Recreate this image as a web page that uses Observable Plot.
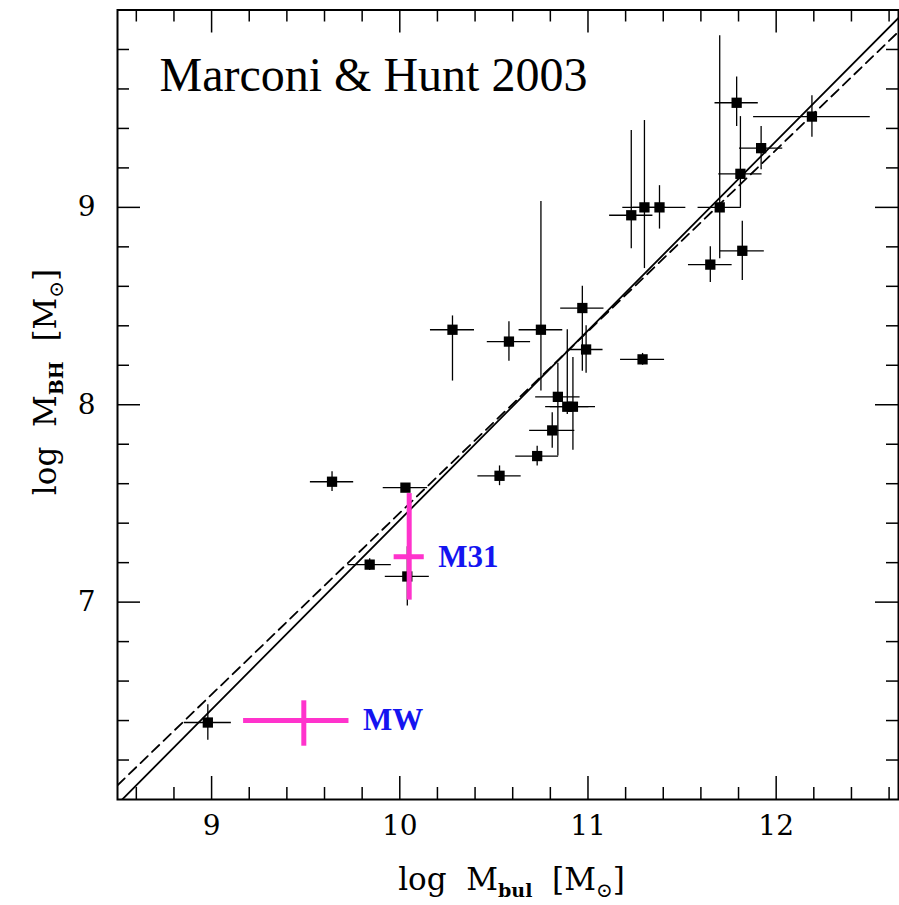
<!DOCTYPE html>
<html>
<head>
<meta charset="utf-8">
<script src="https://cdn.jsdelivr.net/npm/d3@7"></script>
<script src="https://cdn.jsdelivr.net/npm/@observablehq/plot@0.6"></script>
<style>
  body { margin: 0; background: #fff; }
  svg { display: block; }
</style>
</head>
<body>
<div id="chart"></div>
<script>
// ---- Galaxy sample (log M_bul, log M_BH) with error bars ----
const logMbul   = [11.79, 12.19, 11.92, 11.81, 11.70, 11.38, 11.30, 11.23, 11.82, 11.65,
                   10.28, 10.58, 10.75, 10.97, 10.99, 11.29, 10.84, 10.89, 10.92, 10.81,
                   10.73, 10.53, 10.03, 9.64, 9.84, 10.04, 8.98];
const logMbh    = [9.53, 9.46, 9.30, 9.17, 9.00, 9.00, 9.00, 8.96, 8.78, 8.71,
                   8.38, 8.32, 8.38, 8.49, 8.28, 8.23, 8.04, 7.99, 7.99, 7.87,
                   7.74, 7.64, 7.58, 7.61, 7.19, 7.13, 6.39];
const errXLow   = [0.115, 0.31, 0.115, 0.115, 0.115, 0.14, 0.115, 0.115, 0.117, 0.116,
                   0.117, 0.115, 0.116, 0.115, 0.09, 0.117, 0.118, 0.115, 0.12, 0.12,
                   0.114, 0.115, 0.118, 0.115, 0.115, 0.117, 0.125];
const errXHigh  = [0.115, 0.31, 0.115, 0.115, 0.115, 0.14, 0.115, 0.115, 0.117, 0.116,
                   0.117, 0.115, 0.116, 0.115, 0.09, 0.117, 0.118, 0.115, 0.12, 0.12,
                   0.114, 0.115, 0.118, 0.115, 0.115, 0.117, 0.125];
const errYLow   = [0.12, 0.105, 0.11, 0.17, 0.26, 0.11, 0.31, 0.17, 0.15, 0.09,
                   0.26, 0.10, 0.31, 0.32, 0.12, 0.03, 0.30, 0.04, 0.22, 0.09,
                   0.05, 0.05, 0.0, 0.05, 0.03, 0.15, 0.09];
const errYHigh  = [0.13, 0.105, 0.11, 0.29, 0.87, 0.11, 0.44, 0.43, 0.15, 0.09,
                   0.07, 0.10, 0.65, 0.11, 0.12, 0.03, 0.17, 0.39, 0.25, 0.09,
                   0.05, 0.05, 0.0, 0.05, 0.03, 0.15, 0.09];

// ---- Highlighted objects ----
const hiNames    = ["M31", "MW"];
const hiLogMbul  = [10.05, 9.49];
const hiLogMbh   = [7.23, 6.40];
const hiErrXLow  = [0.08, 0.32];
const hiErrXHigh = [0.08, 0.24];
const hiErrYLow  = [0.22, 0.13];
const hiErrYHigh = [0.32, 0.10];

// ---- Fitted relations: log M_BH = a + b (log M_bul - pivot) ----
const fitNames     = ["solid", "dashed"];
const fitIntercept = [8.28, 8.28];
const fitSlope     = [0.96, 0.92];
const fitPivot     = 10.9;

// ---- Axes ----
const xDomain = [8.5, 12.65];
const yDomain = [6, 10];
const xMajorTicks = [9, 10, 11, 12];
const xMinorTicks = [8.6, 8.8, 9.2, 9.4, 9.6, 9.8, 10.2, 10.4, 10.6, 10.8,
                     11.2, 11.4, 11.6, 11.8, 12.2, 12.4, 12.6];
const yMajorTicks = [7, 8, 9];
const yMinorTicks = [6.2, 6.4, 6.6, 6.8, 7.2, 7.4, 7.6, 7.8, 8.2, 8.4, 8.6, 8.8,
                     9.2, 9.4, 9.6, 9.8];
const titleText = "Marconi & Hunt 2003";

// ---- Build tables ----
const galaxies = logMbul.map((x, i) => ({
  x, y: logMbh[i],
  x1: x - errXLow[i], x2: x + errXHigh[i],
  y1: logMbh[i] - errYLow[i], y2: logMbh[i] + errYHigh[i]
}));
const highlights = hiNames.map((name, i) => ({
  name, x: hiLogMbul[i], y: hiLogMbh[i],
  x1: hiLogMbul[i] - hiErrXLow[i], x2: hiLogMbul[i] + hiErrXHigh[i],
  y1: hiLogMbh[i] - hiErrYLow[i], y2: hiLogMbh[i] + hiErrYHigh[i]
}));
const fitLines = fitNames.flatMap((name, i) =>
  xDomain.map(x => ({ name, x, y: fitIntercept[i] + fitSlope[i] * (x - fitPivot) })));

const W = 899, H = 905;
const mL = 117, mR = 1, mT = 9.5, mB = 106;
const frameW = W - mL - mR, frameH = H - mT - mB;
const majorLen = 23, minorLen = 12;
const serif = "'DejaVu Serif', serif";
const times = "'Liberation Serif', serif";
const magenta = "#ff33cc";

const plot = Plot.plot({
  width: W, height: H,
  marginLeft: mL, marginRight: mR, marginTop: mT, marginBottom: mB,
  x: { domain: xDomain, axis: null },
  y: { domain: yDomain, axis: null },
  style: { fontFamily: serif, background: "#fff", overflow: "visible" },
  marks: [
    // fitted lines
    Plot.line(fitLines.filter(d => d.name === "solid"),
      { x: "x", y: "y", stroke: "#000", strokeWidth: 1.8, clip: true }),
    Plot.line(fitLines.filter(d => d.name === "dashed"),
      { x: "x", y: "y", stroke: "#000", strokeWidth: 1.8, strokeDasharray: "10,6", clip: true }),
    // galaxy error bars
    Plot.ruleY(galaxies, { y: "y", x1: "x1", x2: "x2", stroke: "#000", strokeWidth: 1.3 }),
    Plot.ruleX(galaxies.filter(d => d.y2 > d.y1), { x: "x", y1: "y1", y2: "y2", stroke: "#000", strokeWidth: 1.3 }),
    Plot.dot(galaxies, { x: "x", y: "y", symbol: "square", r: 5.8, fill: "#000", stroke: null }),
    // highlighted objects
    Plot.ruleY(highlights, { y: "y", x1: "x1", x2: "x2", stroke: magenta, strokeWidth: 5 }),
    Plot.ruleX(highlights, { x: "x", y1: "y1", y2: "y2", stroke: magenta, strokeWidth: 5 }),
    Plot.text(highlights, { x: "x2", y: "y", text: "name", dx: 14, textAnchor: "start",
      fill: "#1414f0", fontWeight: "bold", fontSize: 31, fontFamily: times }),
    // title
    Plot.text([titleText], { text: d => d, frameAnchor: "top-left", dx: 42, dy: 80.5,
      lineAnchor: "bottom", textAnchor: "start", fontSize: 48, fill: "#000",
      fontFamily: times }),
    // frame
    Plot.frame({ stroke: "#000", strokeWidth: 2 }),
    // ticks: bottom / top
    Plot.tickX(xMajorTicks, { x: d => d, insetTop: frameH - majorLen, stroke: "#000", strokeWidth: 1.5 }),
    Plot.tickX(xMajorTicks, { x: d => d, insetBottom: frameH - majorLen, stroke: "#000", strokeWidth: 1.5 }),
    Plot.tickX(xMinorTicks, { x: d => d, insetTop: frameH - minorLen, stroke: "#000", strokeWidth: 1.5 }),
    Plot.tickX(xMinorTicks, { x: d => d, insetBottom: frameH - minorLen, stroke: "#000", strokeWidth: 1.5 }),
    // ticks: left / right
    Plot.tickY(yMajorTicks, { y: d => d, insetRight: frameW - majorLen, stroke: "#000", strokeWidth: 1.5 }),
    Plot.tickY(yMajorTicks, { y: d => d, insetLeft: frameW - majorLen, stroke: "#000", strokeWidth: 1.5 }),
    Plot.tickY(yMinorTicks, { y: d => d, insetRight: frameW - minorLen, stroke: "#000", strokeWidth: 1.5 }),
    Plot.tickY(yMinorTicks, { y: d => d, insetLeft: frameW - minorLen, stroke: "#000", strokeWidth: 1.5 }),
    // tick labels
    Plot.text(xMajorTicks, { x: d => d, text: d => String(d), frameAnchor: "bottom", dy: 35,
      fontSize: 28, fill: "#000", fontFamily: serif }),
    Plot.text(yMajorTicks, { y: d => d, text: d => String(d), frameAnchor: "left", dx: -22,
      textAnchor: "end", fontSize: 28, fill: "#000", fontFamily: serif })
  ]
});

// axis titles with subscripts
const svg = d3.select(plot);
const xr = plot.scale("x").range, yr = plot.scale("y").range;
function axisTitle(sel, sub) {
  sel.attr("font-family", serif).attr("font-size", 31).attr("fill", "#000")
     .attr("text-anchor", "middle").style("white-space", "pre");
  sel.append("tspan").text("log  M");
  sel.append("tspan").attr("font-size", 19).attr("font-weight", "bold").attr("dy", 7).text(sub);
  sel.append("tspan").attr("dy", -7).text("  [M");
  sel.append("tspan").attr("font-size", 20).attr("dy", 7).text("\u2299");
  sel.append("tspan").attr("dy", -7).text("]");
}
axisTitle(svg.append("text").attr("x", (xr[0] + xr[1]) / 2 + 4).attr("y", 890), "bul");
axisTitle(svg.append("text")
  .attr("transform", `translate(56,382) rotate(-90)`), "BH");

document.getElementById("chart").appendChild(plot);
</script>
</body>
</html>
